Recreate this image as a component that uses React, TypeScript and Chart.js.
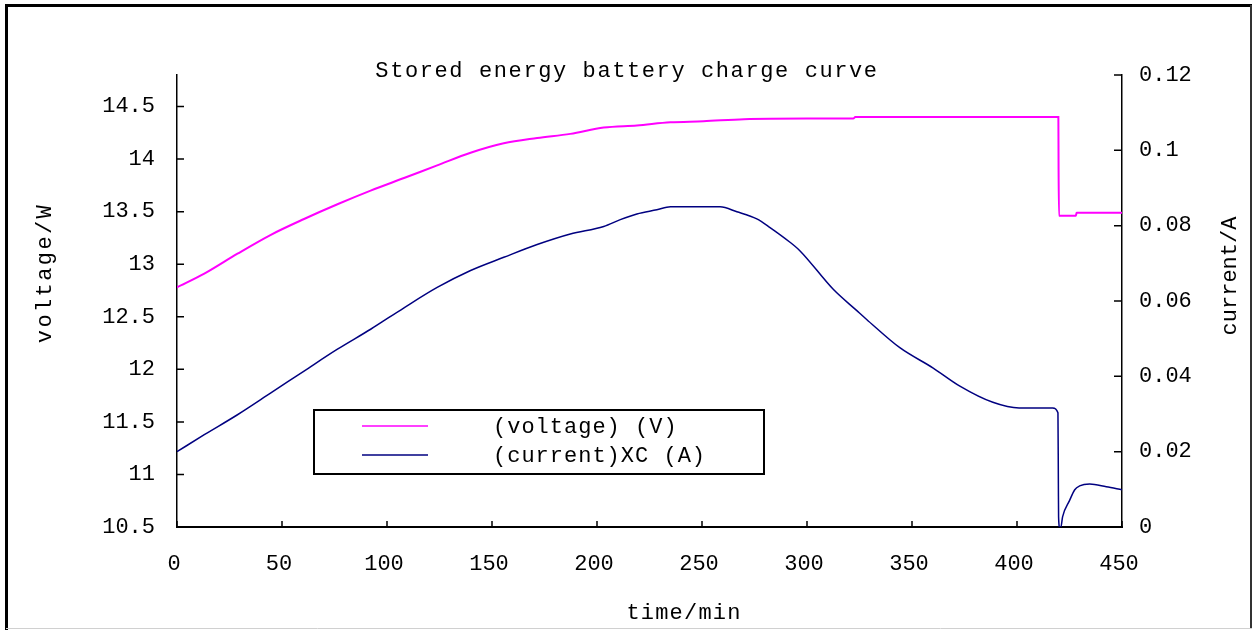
import React, { useEffect, useRef } from "react";
import { Chart, registerables } from "chart.js";

Chart.register(...registerables);

const FONT = "'Liberation Mono', 'DejaVu Sans Mono', monospace";

const chartTitle = "Stored energy battery charge curve";
const xTitle = "time/min";
const yLeftTitle = "voltage/W";
const yRightTitle = "current/A";
const seriesLabels = ["(voltage) (V)", "(current)XC (A)"];
const seriesColors = ["#FF00FF", "#000080"];

const xTicks = [0, 50, 100, 150, 200, 250, 300, 350, 400, 450];
const voltageTicks = [10.5, 11, 11.5, 12, 12.5, 13, 13.5, 14, 14.5];
const currentTicks = [0, 0.02, 0.04, 0.06, 0.08, 0.1, 0.12];

const voltageTime = [
  0, 13, 28.8, 44.7, 60.5, 76.4, 92.2, 108.1, 123.9, 139.8, 155.6, 171.5, 187.3,
  203.2, 219, 234.9, 250.7, 270, 300, 322, 323, 360, 400, 419.7, 419.8, 420.0,
  428.0, 428.4, 450,
];
const voltageValues = [
  12.78, 12.91, 13.1, 13.28, 13.43, 13.57, 13.7, 13.82, 13.94, 14.06, 14.15, 14.2,
  14.24, 14.3, 14.32, 14.35, 14.36, 14.38, 14.385, 14.385, 14.4, 14.4, 14.4, 14.4,
  13.9, 13.46, 13.46, 13.49, 13.49,
];

const currentTime = [
  0, 13, 28.8, 44.7, 60.5, 76.4, 92.2, 108.1, 123.9, 139.8, 155.6, 171.5, 187.3,
  203.2, 211.1, 219, 228.5, 235, 258.6, 266.6, 276.1, 282.4, 291.9, 296.7, 312.5,
  323.6, 328.4, 344.2, 360.1, 372.8, 388.5, 401, 417, 419.5, 419.7, 419.8, 420.3,
  420.9, 421.7, 425, 427.5, 429.8, 434.6, 442.5, 450,
];
const currentValues = [
  0.02, 0.0245, 0.0298, 0.0356, 0.0414, 0.0472, 0.0525, 0.0582, 0.0636, 0.0681,
  0.0716, 0.075, 0.0778, 0.0798, 0.0816, 0.0831, 0.0842, 0.085, 0.085, 0.0837,
  0.0818, 0.0795, 0.0756, 0.0733, 0.0631, 0.0575, 0.0551, 0.0476, 0.0422, 0.0374,
  0.0331, 0.0316, 0.0316, 0.0303, 0.0116, 0.0027, 0, 0, 0.0027, 0.007, 0.0099,
  0.0109, 0.0114, 0.0107, 0.0099,
];

const W = 1253;
const H = 630;

const decorPlugin = {
  id: "decor",
  afterDraw(chart: any) {
    const ctx: CanvasRenderingContext2D = chart.ctx;
    const { left, right, bottom } = chart.chartArea;
    ctx.save();

    // outer frame
    ctx.strokeStyle = "#000";
    ctx.lineWidth = 3;
    ctx.beginPath();
    ctx.moveTo(6.5, 630);
    ctx.lineTo(6.5, 5.5);
    ctx.lineTo(1252, 5.5);
    ctx.stroke();
    ctx.strokeStyle = "#333";
    ctx.lineWidth = 2;
    ctx.beginPath();
    ctx.moveTo(1251, 5);
    ctx.lineTo(1251, 629);
    ctx.stroke();
    ctx.strokeStyle = "#d0d0d0";
    ctx.lineWidth = 1;
    ctx.beginPath();
    ctx.moveTo(6, 628.5);
    ctx.lineTo(1252, 628.5);
    ctx.stroke();

    // inward tick marks
    ctx.strokeStyle = "#000";
    ctx.lineWidth = 1.5;
    const xs = chart.scales.x;
    const yl = chart.scales.yV;
    const yr = chart.scales.yC;
    ctx.beginPath();
    xs.ticks.forEach((t: any) => {
      const px = xs.getPixelForValue(t.value);
      ctx.moveTo(px, bottom);
      ctx.lineTo(px, bottom - 6);
    });
    yl.ticks.forEach((t: any) => {
      const py = yl.getPixelForValue(t.value);
      ctx.moveTo(left, py);
      ctx.lineTo(left + 7, py);
    });
    yr.ticks.forEach((t: any) => {
      const py = yr.getPixelForValue(t.value);
      ctx.moveTo(right, py);
      ctx.lineTo(right - 8, py);
    });
    ctx.stroke();

    ctx.fillStyle = "#000";
    ctx.font = `22px ${FONT}`;
    ctx.textAlign = "center";
    ctx.textBaseline = "middle";

    // chart title
    (ctx as any).letterSpacing = "1.6px";
    ctx.fillText(chartTitle, 627, 71);

    // x axis title
    (ctx as any).letterSpacing = "1.2px";
    ctx.fillText(xTitle, 684, 613);

    // left axis title
    ctx.save();
    ctx.translate(45, 273);
    ctx.rotate(-Math.PI / 2);
    (ctx as any).letterSpacing = "2.4px";
    ctx.fillText(yLeftTitle, 0, 0);
    ctx.restore();

    // right axis title
    ctx.save();
    ctx.translate(1230, 276);
    ctx.rotate(-Math.PI / 2);
    (ctx as any).letterSpacing = "0px";
    ctx.fillText(yRightTitle, 0, 0);
    ctx.restore();

    // legend
    ctx.lineWidth = 2;
    ctx.strokeStyle = "#000";
    ctx.strokeRect(314, 410, 450, 64);
    const rows = [426, 455];
    chart.data.datasets.forEach((ds: any, i: number) => {
      ctx.strokeStyle = ds.borderColor;
      ctx.lineWidth = 1.5;
      ctx.beginPath();
      ctx.moveTo(362, rows[i]);
      ctx.lineTo(428, rows[i]);
      ctx.stroke();
      ctx.fillStyle = "#000";
      ctx.textAlign = "left";
      (ctx as any).letterSpacing = "1px";
      ctx.fillText(ds.label, 493, rows[i] + 1);
    });

    ctx.restore();
  },
};

function fmt(v: number) {
  return String(Math.round(v * 1000) / 1000);
}

export default function App() {
  const ref = useRef<HTMLCanvasElement | null>(null);

  useEffect(() => {
    if (!ref.current) return;
    const chart = new Chart(ref.current, {
      type: "line",
      data: {
        datasets: [
          {
            label: seriesLabels[0],
            data: voltageTime.map((t, i) => ({ x: t, y: voltageValues[i] })),
            borderColor: seriesColors[0],
            backgroundColor: seriesColors[0],
            borderWidth: 2,
            pointRadius: 0,
            cubicInterpolationMode: "monotone",
            yAxisID: "yV",
          },
          {
            label: seriesLabels[1],
            data: currentTime.map((t, i) => ({ x: t, y: currentValues[i] })),
            borderColor: seriesColors[1],
            backgroundColor: seriesColors[1],
            borderWidth: 1.5,
            pointRadius: 0,
            cubicInterpolationMode: "monotone",
            yAxisID: "yC",
          },
        ],
      },
      options: {
        animation: false,
        responsive: false,
        devicePixelRatio: 1,
        layout: { padding: { top: 75, left: 0, right: 0, bottom: 0 } },
        plugins: {
          legend: { display: false },
          title: { display: false },
          tooltip: { enabled: false },
        },
        scales: {
          x: {
            type: "linear",
            min: 0,
            max: 450,
            afterBuildTicks: (s: any) => {
              s.ticks = xTicks.map((v) => ({ value: v }));
            },
            afterFit: (s: any) => {
              s.height = 103;
            },
            grid: { display: false, drawTicks: false },
            border: { display: true, color: "#000", width: 2 },
            ticks: {
              color: "#000",
              font: { family: FONT, size: 22 },
              padding: 24,
              labelOffset: -3,
              maxRotation: 0,
              autoSkip: false,
              callback: (v: any) => fmt(Number(v)),
            },
          },
          yV: {
            type: "linear",
            position: "left",
            min: 10.5,
            max: 14.8,
            afterBuildTicks: (s: any) => {
              s.ticks = voltageTicks.map((v) => ({ value: v }));
            },
            afterFit: (s: any) => {
              s.width = 177;
            },
            grid: { display: false, drawTicks: false },
            border: { display: true, color: "#000", width: 1.5 },
            ticks: {
              color: "#000",
              font: { family: FONT, size: 22 },
              padding: 22,
              autoSkip: false,
              callback: (v: any) => fmt(Number(v)),
            },
          },
          yC: {
            type: "linear",
            position: "right",
            min: 0,
            max: 0.12,
            afterBuildTicks: (s: any) => {
              s.ticks = currentTicks.map((v) => ({ value: v }));
            },
            afterFit: (s: any) => {
              s.width = 131;
            },
            grid: { display: false, drawTicks: false },
            border: { display: true, color: "#000", width: 1.5 },
            ticks: {
              color: "#000",
              font: { family: FONT, size: 22 },
              padding: 17,
              autoSkip: false,
              callback: (v: any) => fmt(Number(v)),
            },
          },
        },
      },
      plugins: [decorPlugin],
    } as any);
    return () => chart.destroy();
  }, []);

  return (
    <div
      style={{
        position: "fixed",
        left: 0,
        top: 0,
        width: W,
        height: H,
        background: "#fff",
      }}
    >
      <canvas ref={ref} width={W} height={H} style={{ display: "block" }} />
    </div>
  );
}
